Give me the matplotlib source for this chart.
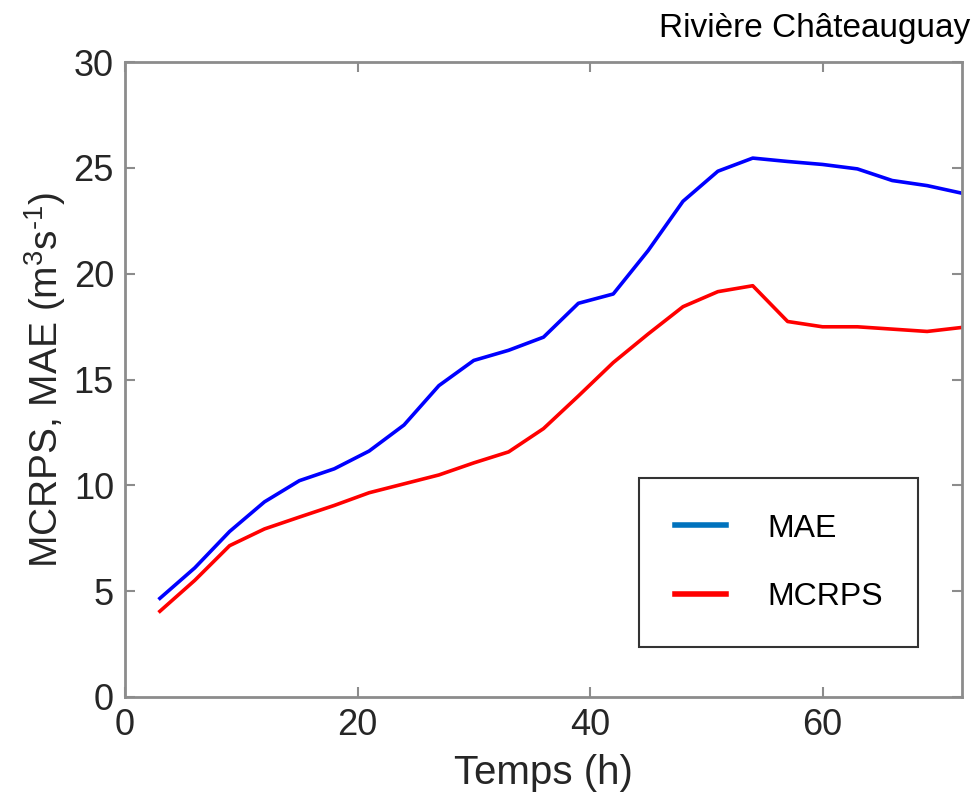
import numpy as np
import matplotlib
matplotlib.use("Agg")
import matplotlib.pyplot as plt
from matplotlib.lines import Line2D

# ── data ─────────────────────────────────────────────────────────────────────
temps = [3, 6, 9, 12, 15, 18, 21, 24, 27, 30, 33, 36,
         39, 42, 45, 48, 51, 54, 57, 60, 63, 66, 69, 72]
mae = [4.66, 6.10, 7.82, 9.22, 10.22, 10.78, 11.62, 12.85, 14.71, 15.90, 16.38, 17.00,
       18.60, 19.04, 21.09, 23.42, 24.84, 25.46, 25.30, 25.16, 24.95, 24.40, 24.16, 23.80]
mcrps = [4.05, 5.51, 7.15, 7.94, 8.50, 9.05, 9.65, 10.07, 10.49, 11.06, 11.58, 12.68,
         14.22, 15.80, 17.15, 18.44, 19.15, 19.43, 17.74, 17.49, 17.49, 17.38, 17.27, 17.46]
series_labels = ["MAE", "MCRPS"]
title_txt = "Rivière Châteauguay"

plt.rcParams["font.family"] = ["Liberation Sans", "DejaVu Sans"]
plt.rcParams["mathtext.fontset"] = "custom"
plt.rcParams["mathtext.rm"] = "Liberation Sans"
plt.rcParams["mathtext.it"] = "Liberation Sans"
plt.rcParams["mathtext.default"] = "rm"

txt_col = "#262626"
ax_col = "#8c8c8c"

fig = plt.figure(figsize=(9.75, 8.10), dpi=100)
ax = fig.add_axes([125 / 975, 1 - 697 / 810, (962 - 125) / 975, (697 - 62) / 810])

ax.plot(temps, mae, color="#0000ff", lw=2.6)
ax.plot(temps, mcrps, color="#ff0000", lw=2.6)

ax.set_xlim(0, 72)
ax.set_ylim(0, 30)
ax.set_xticks([0, 20, 40, 60])
ax.set_yticks(np.arange(0, 31, 5))

for s in ax.spines.values():
    s.set_color(ax_col)
    s.set_linewidth(2.0)
ax.tick_params(direction="in", top=True, right=True, length=7, width=1.5,
               color=ax_col, labelcolor=txt_col, labelsize=26, pad=8)

ax.set_xlabel("Temps (h)", fontsize=29, color=txt_col, labelpad=8)
ax.set_ylabel(r"MCRPS, MAE (m$^{3}$s$^{\text{-}1}$)", fontsize=28, color=txt_col,
              labelpad=4)

fig.text(970 / 975, 1 - 28 / 810, title_txt, ha="right", va="center",
         fontsize=24, color="black")

handles = [Line2D([], [], color="#0072bd", lw=4),
           Line2D([], [], color="#ff0000", lw=4)]
leg = ax.legend(handles, series_labels, loc="lower right",
                bbox_to_anchor=((918 - 125) / 837, (697 - 647) / 635),
                fontsize=23, frameon=True, fancybox=False, edgecolor="black",
                handlelength=1.6, handletextpad=1.3, labelspacing=1.2,
                borderpad=1.1, borderaxespad=0)
leg.get_frame().set_linewidth(1.5)
for t in leg.get_texts():
    t.set_color("black")

fig.savefig("out.png", dpi=100)
plt.close()
